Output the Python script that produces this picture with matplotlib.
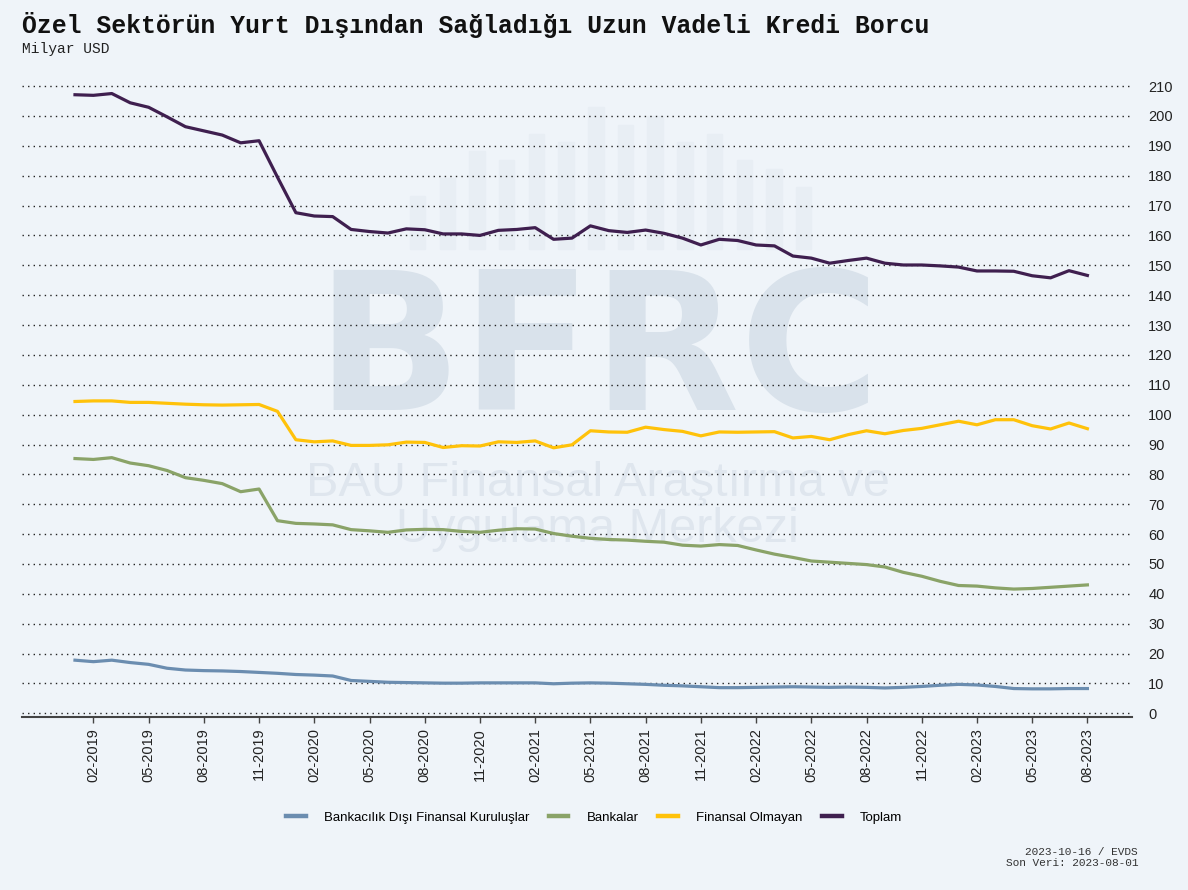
import pandas as pd
import matplotlib
matplotlib.use('Agg')
import matplotlib.pyplot as plt
from matplotlib.patches import Rectangle

# Data (milyar USD), aylik 2019-01 .. 2023-08
months = pd.date_range('2019-01-01', '2023-08-01', freq='MS')

bankacilik_disi = [17.8, 17.3, 17.8, 17.0, 16.4, 15.1, 14.5, 14.3, 14.2, 14.0,
                   13.7, 13.4, 13.0, 12.8, 12.5, 11.0, 10.7, 10.4, 10.3, 10.2,
                   10.1, 10.1, 10.2, 10.2, 10.2, 10.2, 9.9, 10.1, 10.2, 10.1,
                   9.9, 9.7, 9.4, 9.2, 8.9, 8.6, 8.6, 8.7, 8.8, 8.9,
                   8.8, 8.7, 8.8, 8.7, 8.5, 8.7, 9.0, 9.4, 9.7, 9.5,
                   9.0, 8.3, 8.2, 8.2, 8.3, 8.3]

bankalar = [85.3, 85.0, 85.6, 83.8, 82.9, 81.3, 78.9, 78.0, 76.9, 74.2,
            75.1, 64.5, 63.6, 63.4, 63.1, 61.5, 61.1, 60.6, 61.4, 61.6,
            61.5, 60.9, 60.6, 61.3, 61.8, 61.7, 60.2, 59.3, 58.6, 58.2,
            58.0, 57.6, 57.3, 56.3, 56.0, 56.5, 56.2, 54.7, 53.3, 52.2,
            51.0, 50.6, 50.2, 49.8, 49.0, 47.2, 45.9, 44.2, 42.8, 42.6,
            42.0, 41.6, 41.8, 42.2, 42.6, 43.0]

finansal_olmayan = [104.4, 104.6, 104.6, 104.1, 104.1, 103.8, 103.5, 103.3, 103.2, 103.3,
                    103.4, 101.1, 91.6, 90.9, 91.2, 89.7, 89.7, 89.9, 90.8, 90.7,
                    89.0, 89.6, 89.5, 90.9, 90.7, 91.2, 88.9, 89.9, 94.6, 94.2,
                    94.1, 95.8, 95.0, 94.4, 92.9, 94.2, 94.1, 94.2, 94.3, 92.2,
                    92.7, 91.6, 93.3, 94.6, 93.6, 94.7, 95.4, 96.6, 97.8, 96.6,
                    98.3, 98.3, 96.3, 95.2, 97.2, 95.3]

toplam = [207.1, 206.9, 207.5, 204.4, 202.9, 199.7, 196.4, 195.0, 193.6, 191.0,
          191.7, 179.5, 167.6, 166.5, 166.3, 162.0, 161.3, 160.8, 162.2, 161.9,
          160.5, 160.5, 160.0, 161.7, 162.0, 162.6, 158.7, 159.1, 163.2, 161.6,
          161.0, 161.8, 160.7, 159.1, 156.8, 158.7, 158.3, 156.8, 156.5, 153.1,
          152.4, 150.7, 151.6, 152.4, 150.7, 150.1, 150.1, 149.8, 149.4, 148.1,
          148.1, 148.0, 146.5, 145.8, 148.2, 146.6]

series = [
    ('Bankacılık Dışı Finansal Kuruluşlar', bankacilik_disi, '#6b8db0'),
    ('Bankalar', bankalar, '#8aa368'),
    ('Finansal Olmayan', finansal_olmayan, '#ffc20a'),
    ('Toplam', toplam, '#3f1f4f'),
]

bg = '#eff4f9'
plt.rcParams['font.family'] = ['Liberation Sans', 'DejaVu Sans']

fig = plt.figure(figsize=(11.88, 8.9), dpi=100, facecolor=bg)
ax = fig.add_axes([0.0185, 0.194, 0.934, 0.716], facecolor=bg)

# watermark (logo in the background)
for bx, bh in [(0.345, 0.06), (0.37, 0.08), (0.395, 0.11), (0.42, 0.10), (0.445, 0.13),
               (0.47, 0.12), (0.495, 0.16), (0.52, 0.14), (0.545, 0.15), (0.57, 0.12),
               (0.595, 0.13), (0.62, 0.10), (0.645, 0.09), (0.67, 0.07)]:
    ax.add_patch(Rectangle((bx, 0.72), 0.013, bh, transform=fig.transFigure,
                           color='#e8eef4', zorder=0.2, clip_on=False))
ax.text(0.503, 0.539, 'BFRC', fontsize=138, fontweight='bold', family='DejaVu Sans',
        color='#d9e2eb', ha='center', va='baseline', transform=fig.transFigure, zorder=0.3)
ax.text(0.503, 0.457, 'BAU Finansal Araştırma ve', fontsize=35, color='#dfe6ee',
        ha='center', va='center', transform=fig.transFigure, zorder=0.3)
ax.text(0.503, 0.405, 'Uygulama Merkezi', fontsize=35, color='#dfe6ee',
        ha='center', va='center', transform=fig.transFigure, zorder=0.3)

x = list(range(len(months)))
for label, vals, col in series:
    ax.plot(x, vals, color=col, lw=2.3, label=label, solid_joinstyle='round', zorder=3)

ax.set_xlim(-2.88, 57.4)
ax.set_ylim(-1.34, 212)
ax.set_yticks(range(0, 211, 10))
ax.yaxis.tick_right()
ax.tick_params(axis='y', length=0, labelsize=10.5, pad=12, colors='#222222')
ax.grid(axis='y', color='#222222', linestyle=(0, (1, 3)), linewidth=1.0, zorder=1)
ax.set_axisbelow(True)

tick_idx = list(range(1, len(months), 3))
ax.set_xticks(tick_idx)
ax.set_xticklabels([months[i].strftime('%m-%Y') for i in tick_idx], rotation=90)
ax.tick_params(axis='x', length=4, width=1, color='#444444', labelsize=10.5, colors='#222222')

for s in ['top', 'left', 'right']:
    ax.spines[s].set_visible(False)
ax.spines['bottom'].set_color('#444444')
ax.spines['bottom'].set_linewidth(1.5)

fig.text(0.0185, 0.963, 'Özel Sektörün Yurt Dışından Sağladığı Uzun Vadeli Kredi Borcu',
         fontsize=17.8, fontweight='bold', family='Liberation Mono', color='#111111')
fig.text(0.0185, 0.941, 'Milyar USD', fontsize=10.5, family='Liberation Mono', color='#222222')

fig.legend(loc='center', bbox_to_anchor=(0.5, 0.081), ncol=4, frameon=False,
           fontsize=9.5, handlelength=1.5, columnspacing=1.45, handletextpad=1.4)
for ln in fig.legends[0].get_lines():
    ln.set_linewidth(3.2)

fig.text(0.958, 0.048, '2023-10-16 / EVDS\nSon Veri: 2023-08-01', fontsize=8,
         family='Liberation Mono', ha='right', va='top', color='#333333', linespacing=1.1)

fig.savefig('out.png', dpi=100, facecolor=bg)
